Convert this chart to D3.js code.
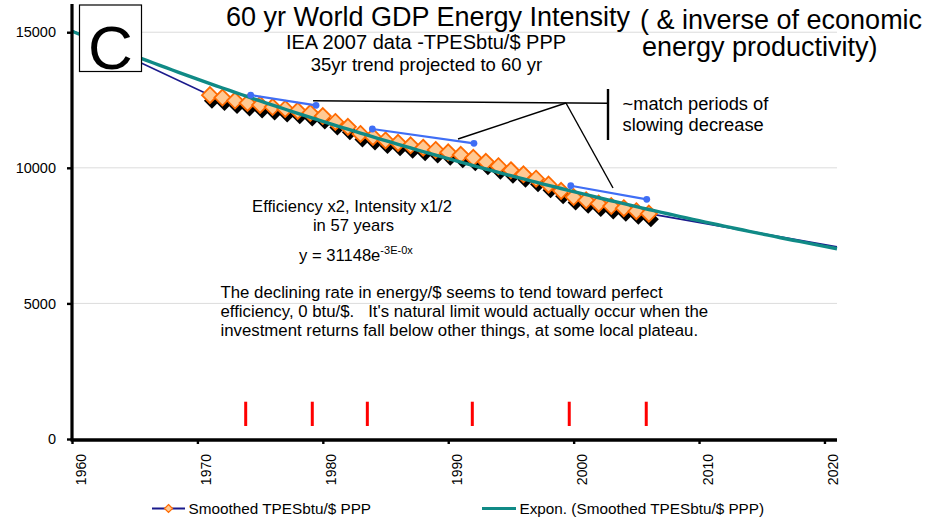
<!DOCTYPE html>
<html><head><meta charset="utf-8">
<script src="https://cdn.jsdelivr.net/npm/d3@7"></script>
<style>
body{margin:0;background:#fff}
svg{display:block;font-family:"Liberation Sans",Arial,sans-serif}
</style>
</head><body>
<svg id="c" width="944" height="520"></svg>
<script>
// ---- data ----
const years = [1971,1972,1973,1974,1975,1976,1977,1978,1979,1980,1981,1982,1983,1984,1985,1986,1987,1988,
               1989,1990,1991,1992,1993,1994,1995,1996,1997,1998,1999,2000,2001,2002,2003,2004,2005,2006];
const values = [12680,12590,12480,12390,12320,12240,12170,12100,12020,11910,11690,11510,11250,11140,11010,10920,10830,10740,
                10660,10570,10480,10370,10220,10060,9910,9760,9600,9380,9150,8920,8800,8680,8590,8510,8400,8310];
const projStartYear = 1960, projStartValue = 15060;
const projEndYear = 2021, projEndValue = 7090;
const yTicks = [0,5000,10000,15000];
const xTicks = [1960,1970,1980,1990,2000,2010,2020];
// slowing-decrease segments (year, value)
const slowStartYear = [1974.25,1983.95,1999.77];
const slowStartValue = [12684,11431,9340];
const slowEndYear = [1979.46,1992.05,2005.83];
const slowEndValue = [12305,10903,8838];
// red period markers
const redYears = [1973.85,1979.16,1983.55,1991.92,1999.65,2005.79];
const redLow = 480, redHigh = 1375;
// callout lines (year, value)
const calloutHoriz = [[1979.22,12474],[2002.74,12378]];
const calloutJunction = [1999.39,12389];
const calloutTargets = [[1990.78,11062],[2003.14,9255]];
const calloutBar = [[2002.74,12906],[2002.74,11025]];

// ---- scales ----
const svg = d3.select("#c");
const x = d3.scaleLinear().domain([1960,2021]).range([72,837]);
const y = d3.scaleLinear().domain([0,16000]).range([439,5.1]);

// gridlines
svg.append("g").selectAll("line").data(yTicks.filter(d=>d>0)).join("line")
  .attr("x1",x(1960)).attr("x2",x(2021)).attr("y1",d=>y(d)).attr("y2",d=>y(d))
  .attr("stroke","#dcdcdc").attr("stroke-width",1);

// red markers
svg.append("g").selectAll("line").data(redYears).join("line")
  .attr("x1",d=>x(d)).attr("x2",d=>x(d)).attr("y1",y(redLow)).attr("y2",y(redHigh))
  .attr("stroke","#ff0000").attr("stroke-width",3);

// navy series line
const series = years.map((yr,i)=>[yr,values[i]]);
const navyPts = [[projStartYear,projStartValue]].concat(series,[[projEndYear,projEndValue]]);
const line = d3.line().x(d=>x(d[0])).y(d=>y(d[1]));
svg.append("path").datum(navyPts).attr("d",line).attr("fill","none")
  .attr("stroke","#1a1a8c").attr("stroke-width",1.6);

// diamonds with shadow
const dia = "M0,-8L8,0L0,8L-8,0Z";
svg.append("g").selectAll("path").data(series).join("path")
  .attr("d",dia).attr("transform",d=>`translate(${x(d[0])+2},${y(d[1])+5.5})`)
  .attr("fill","#000");
svg.append("g").selectAll("path").data(series).join("path")
  .attr("d",dia).attr("transform",d=>`translate(${x(d[0])},${y(d[1])})`)
  .attr("fill","#ffc993").attr("stroke","#ff6a00").attr("stroke-width",1.8);

// exponential trend (least squares on ln(value))
const mx = d3.mean(years), my = d3.mean(values,v=>Math.log(v));
let sxy=0,sxx=0;
years.forEach((yr,i)=>{sxy+=(yr-mx)*(Math.log(values[i])-my);sxx+=(yr-mx)*(yr-mx);});
const b = sxy/sxx, a = my - b*mx;
const trendYears = d3.range(1960,2021.01,0.5);
svg.append("path").datum(trendYears.map(t=>[t,Math.exp(a+b*t)])).attr("d",line)
  .attr("fill","none").attr("stroke","#108a86").attr("stroke-width",3.4);

// blue slowing segments
const blue = "#3f6ef5";
const segG = svg.append("g");
slowStartYear.forEach((s,i)=>{
  segG.append("line").attr("x1",x(s)).attr("y1",y(slowStartValue[i]))
    .attr("x2",x(slowEndYear[i])).attr("y2",y(slowEndValue[i]))
    .attr("stroke",blue).attr("stroke-width",2.2);
  segG.append("circle").attr("cx",x(s)).attr("cy",y(slowStartValue[i])).attr("r",3.4).attr("fill",blue);
  segG.append("circle").attr("cx",x(slowEndYear[i])).attr("cy",y(slowEndValue[i])).attr("r",3.4).attr("fill",blue);
});

// callouts
const cg = svg.append("g").attr("stroke","#000").attr("fill","none");
cg.append("path").datum(calloutHoriz).attr("d",line).attr("stroke-width",1.4);
calloutTargets.forEach(t=>{
  cg.append("path").datum([calloutJunction,t]).attr("d",line).attr("stroke-width",1.4);
});
cg.append("path").datum(calloutBar).attr("d",line).attr("stroke-width",2.4);

// axes
const yAxis = svg.append("g").attr("transform",`translate(${x(1960)},0)`)
  .call(d3.axisLeft(y).tickValues(yTicks).tickSize(5).tickSizeOuter(0).tickPadding(11).tickFormat(d3.format("d")));
yAxis.select(".domain").attr("stroke","#000").attr("stroke-width",3.2).attr("d",`M0,${y(0)+1.5}V${y(16000)-1}`);
yAxis.selectAll(".tick line").attr("stroke","#000").attr("stroke-width",2.4);
yAxis.selectAll("text").attr("font-size",14.5).attr("fill","#000").attr("font-family","Liberation Sans, Arial, sans-serif");

const xAxis = svg.append("g").attr("transform",`translate(0,${y(0)+1})`)
  .call(d3.axisBottom(x).tickValues(xTicks).tickSize(4).tickSizeOuter(0).tickFormat(d3.format("d")));
xAxis.select(".domain").attr("stroke","#000").attr("stroke-width",3.4).attr("d",`M${x(1960)-1.5},0H${x(2021)}`);
xAxis.selectAll(".tick line").attr("stroke","#000").attr("stroke-width",2.4);
xAxis.selectAll("text").attr("font-size",14).attr("fill","#000").attr("font-family","Liberation Sans, Arial, sans-serif")
  .attr("transform","rotate(-90)").attr("text-anchor","end").attr("x",-14).attr("y",13).attr("dy",0);

// texts
const T = (tx,ty,str,size,anchor)=>svg.append("text").attr("x",tx).attr("y",ty).attr("font-size",size)
  .attr("text-anchor",anchor||"start").attr("fill","#000").style("white-space","pre").text(str);
T(428,25.5,"60 yr World GDP Energy Intensity",27,"middle");
T(426,49,"IEA 2007 data -TPESbtu/$ PPP",20,"middle");
T(426.5,70.5,"35yr trend projected to 60 yr",18.5,"middle");
T(640,28.5,"( & inverse of economic",27);
T(642,56,"energy productivity)",27);
T(622.5,109.5,"~match periods of",18.3);
T(622.5,130.5,"slowing decrease",18.3);
T(352,211.5,"Efficiency x2, Intensity x1/2",16.6,"middle");
T(353.5,230.5,"in 57 years",16.6,"middle");
const eq = T(299,260.5,"y = 31148e",16.6);
eq.append("tspan").attr("font-size",11).attr("dy",-7).text("-3E-0x");
T(220.5,297.5,"The declining rate in energy/$ seems to tend toward perfect",16.8);
T(220.5,317,"efficiency, 0 btu/$.   It's natural limit would actually occur when the",16.8);
T(220.5,336,"investment returns fall below other things, at some local plateau.",16.8);

// C box
svg.append("rect").attr("x",79.5).attr("y",5).attr("width",62).attr("height",66.5)
  .attr("fill","#fff").attr("stroke","#000").attr("stroke-width",1.2);
T(110.5,69,"C",62,"middle");

// legend
const lg = svg.append("g");
lg.append("line").attr("x1",152).attr("x2",185).attr("y1",508.5).attr("y2",508.5).attr("stroke","#1a1a8c").attr("stroke-width",1.8);
lg.append("path").attr("d","M0,-4L4,0L0,4L-4,0Z").attr("transform","translate(168.5,508.5)")
  .attr("fill","#ffc993").attr("stroke","#ff6a00").attr("stroke-width",1.2);
T(188.5,513.5,"Smoothed TPESbtu/$ PPP",15.3);
lg.append("line").attr("x1",482).attr("x2",516).attr("y1",508.5).attr("y2",508.5).attr("stroke","#108a86").attr("stroke-width",3);
T(519.5,513.5,"Expon. (Smoothed TPESbtu/$ PPP)",15.3);
</script>
</body></html>
